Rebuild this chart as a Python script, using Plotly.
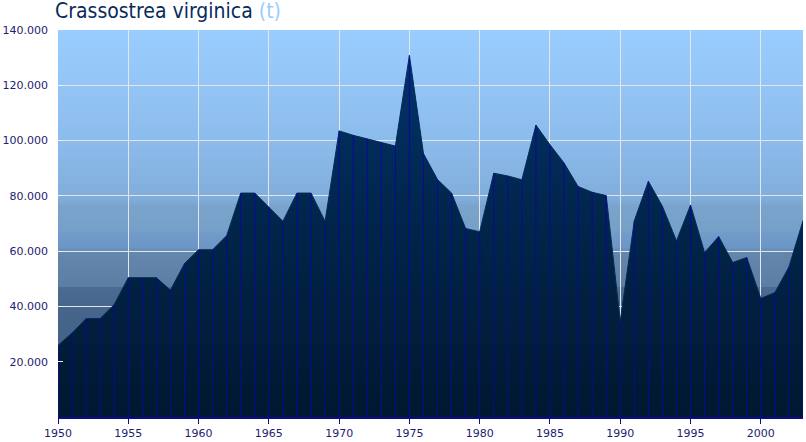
import plotly.graph_objects as go

years = list(range(1950, 2004))
production_t = [
    25900, 30400, 35600, 35600, 40700, 50400, 50400, 50400, 45900, 55500,
    60500, 60500, 65600, 81000, 81000, 75900, 70800, 81000, 81000, 70800,
    103500, 101900, 100600, 99200, 98000, 130800, 95300, 85900, 81000, 68200,
    67000, 88200, 87200, 85800, 105600, 98500, 91900, 83400, 81300, 80100,
    34700, 71000, 85300, 76200, 63700, 76700, 59500, 65300, 55900, 57700,
    42900, 45000, 54300, 71000,
]
y_tick_values = [20000, 40000, 60000, 80000, 100000, 120000, 140000]
x_tick_values = [1950, 1955, 1960, 1965, 1970, 1975, 1980, 1985, 1990, 1995, 2000]
title_text = "Crassostrea virginica"
unit_text = "(t)"

Y_MAX = 140000
X_MIN, X_MAX = years[0], years[-1]

# background colour stops (value, rgb)
bg_stops = [
    (0, (61, 91, 128)),
    (40000, (70, 102, 140)),
    (47000, (75, 107, 147)),
    (47001, (93, 125, 164)),
    (60000, (100, 135, 174)),
    (61000, (108, 150, 198)),
    (66000, (111, 154, 202)),
    (67000, (118, 160, 200)),
    (77000, (122, 164, 204)),
    (78000, (128, 172, 218)),
    (100000, (140, 188, 236)),
    (140000, (154, 205, 255)),
]


def bg_color(v):
    for (v0, c0), (v1, c1) in zip(bg_stops[:-1], bg_stops[1:]):
        if v0 <= v <= v1:
            t = (v - v0) / (v1 - v0)
            c = [round(a + (b - a) * t) for a, b in zip(c0, c1)]
            return f"rgb({c[0]},{c[1]},{c[2]})"
    return "rgb(154,205,255)"


band = 1000
shapes = []
for lo in range(0, Y_MAX, band):
    shapes.append(dict(
        type="rect", xref="paper", yref="y", x0=0, x1=1,
        y0=lo, y1=min(lo + band * 2, Y_MAX),
        fillcolor=bg_color(lo + band / 2), line=dict(width=0), layer="below",
    ))

fig = go.Figure()

# main area
fig.add_trace(go.Scatter(
    x=years, y=production_t, mode="lines",
    line=dict(width=1, color="#022c5c"),
    fill="tozeroy",
    fillgradient=dict(
        type="vertical", start=0, stop=130000,
        colorscale=[[0.0, "#011830"], [0.5, "#012448"], [1.0, "#03326a"]],
    ),
    showlegend=False,
))

# vertical drop lines per year
vx, vy = [], []
for yr, v in zip(years, production_t):
    vx += [yr, yr, None]
    vy += [0, v, None]
fig.add_trace(go.Scatter(
    x=vx, y=vy, mode="lines", line=dict(width=1, color="#0a0a9a"),
    hoverinfo="skip", showlegend=False,
))

fig.update_layout(
    width=806, height=442,
    margin=dict(l=58, r=3, t=30, b=25),
    paper_bgcolor="white",
    plot_bgcolor="#9acdff",
    separators=",.",
    shapes=shapes,
    font=dict(family="DejaVu Sans", size=11, color="#1c2270"),
    title=dict(
        text=f"{title_text} <span style='color:#99ccff'>{unit_text}</span>",
        x=55 / 806, xref="container", xanchor="left",
        y=1 - 3 / 442, yref="container", yanchor="top",
        pad=dict(t=0, l=0),
        font=dict(family="DejaVu Sans Condensed", size=21, color="#0b2a5c"),
    ),
    xaxis=dict(
        range=[X_MIN, X_MAX],
        tickvals=x_tick_values,
        ticks="outside", ticklen=5, tickcolor="#0a0a8c", tickwidth=1,
        showline=True, linecolor="#0a0a8c", linewidth=2,
        showgrid=True, gridcolor="#e6e6e6", gridwidth=1,
        zeroline=False,
        tickfont=dict(family="DejaVu Sans", size=11, color="#1c2270"),
    ),
    yaxis=dict(
        range=[0, Y_MAX],
        tickvals=y_tick_values,
        tickformat=",d",
        ticks="inside", ticklen=5, tickcolor="#f0f0f0",
        ticklabelstandoff=9,
        showline=False,
        showgrid=True, gridcolor="#e6e6e6", gridwidth=1,
        zeroline=False,
        tickfont=dict(family="DejaVu Sans", size=11, color="#1c2270"),
    ),
    yaxis2=dict(
        overlaying="y", side="right", range=[0, 8.9],
        tickvals=[1, 2, 3, 4, 5, 6, 7, 8], showticklabels=False,
        ticks="inside", ticklen=4, tickcolor="#f0f0f0",
        showgrid=False, zeroline=False, showline=False, automargin=False,
    ),
)

fig.write_html(
    "out.html",
    config={"displayModeBar": False},
    post_script=["document.body.style.margin='0';"],
)
